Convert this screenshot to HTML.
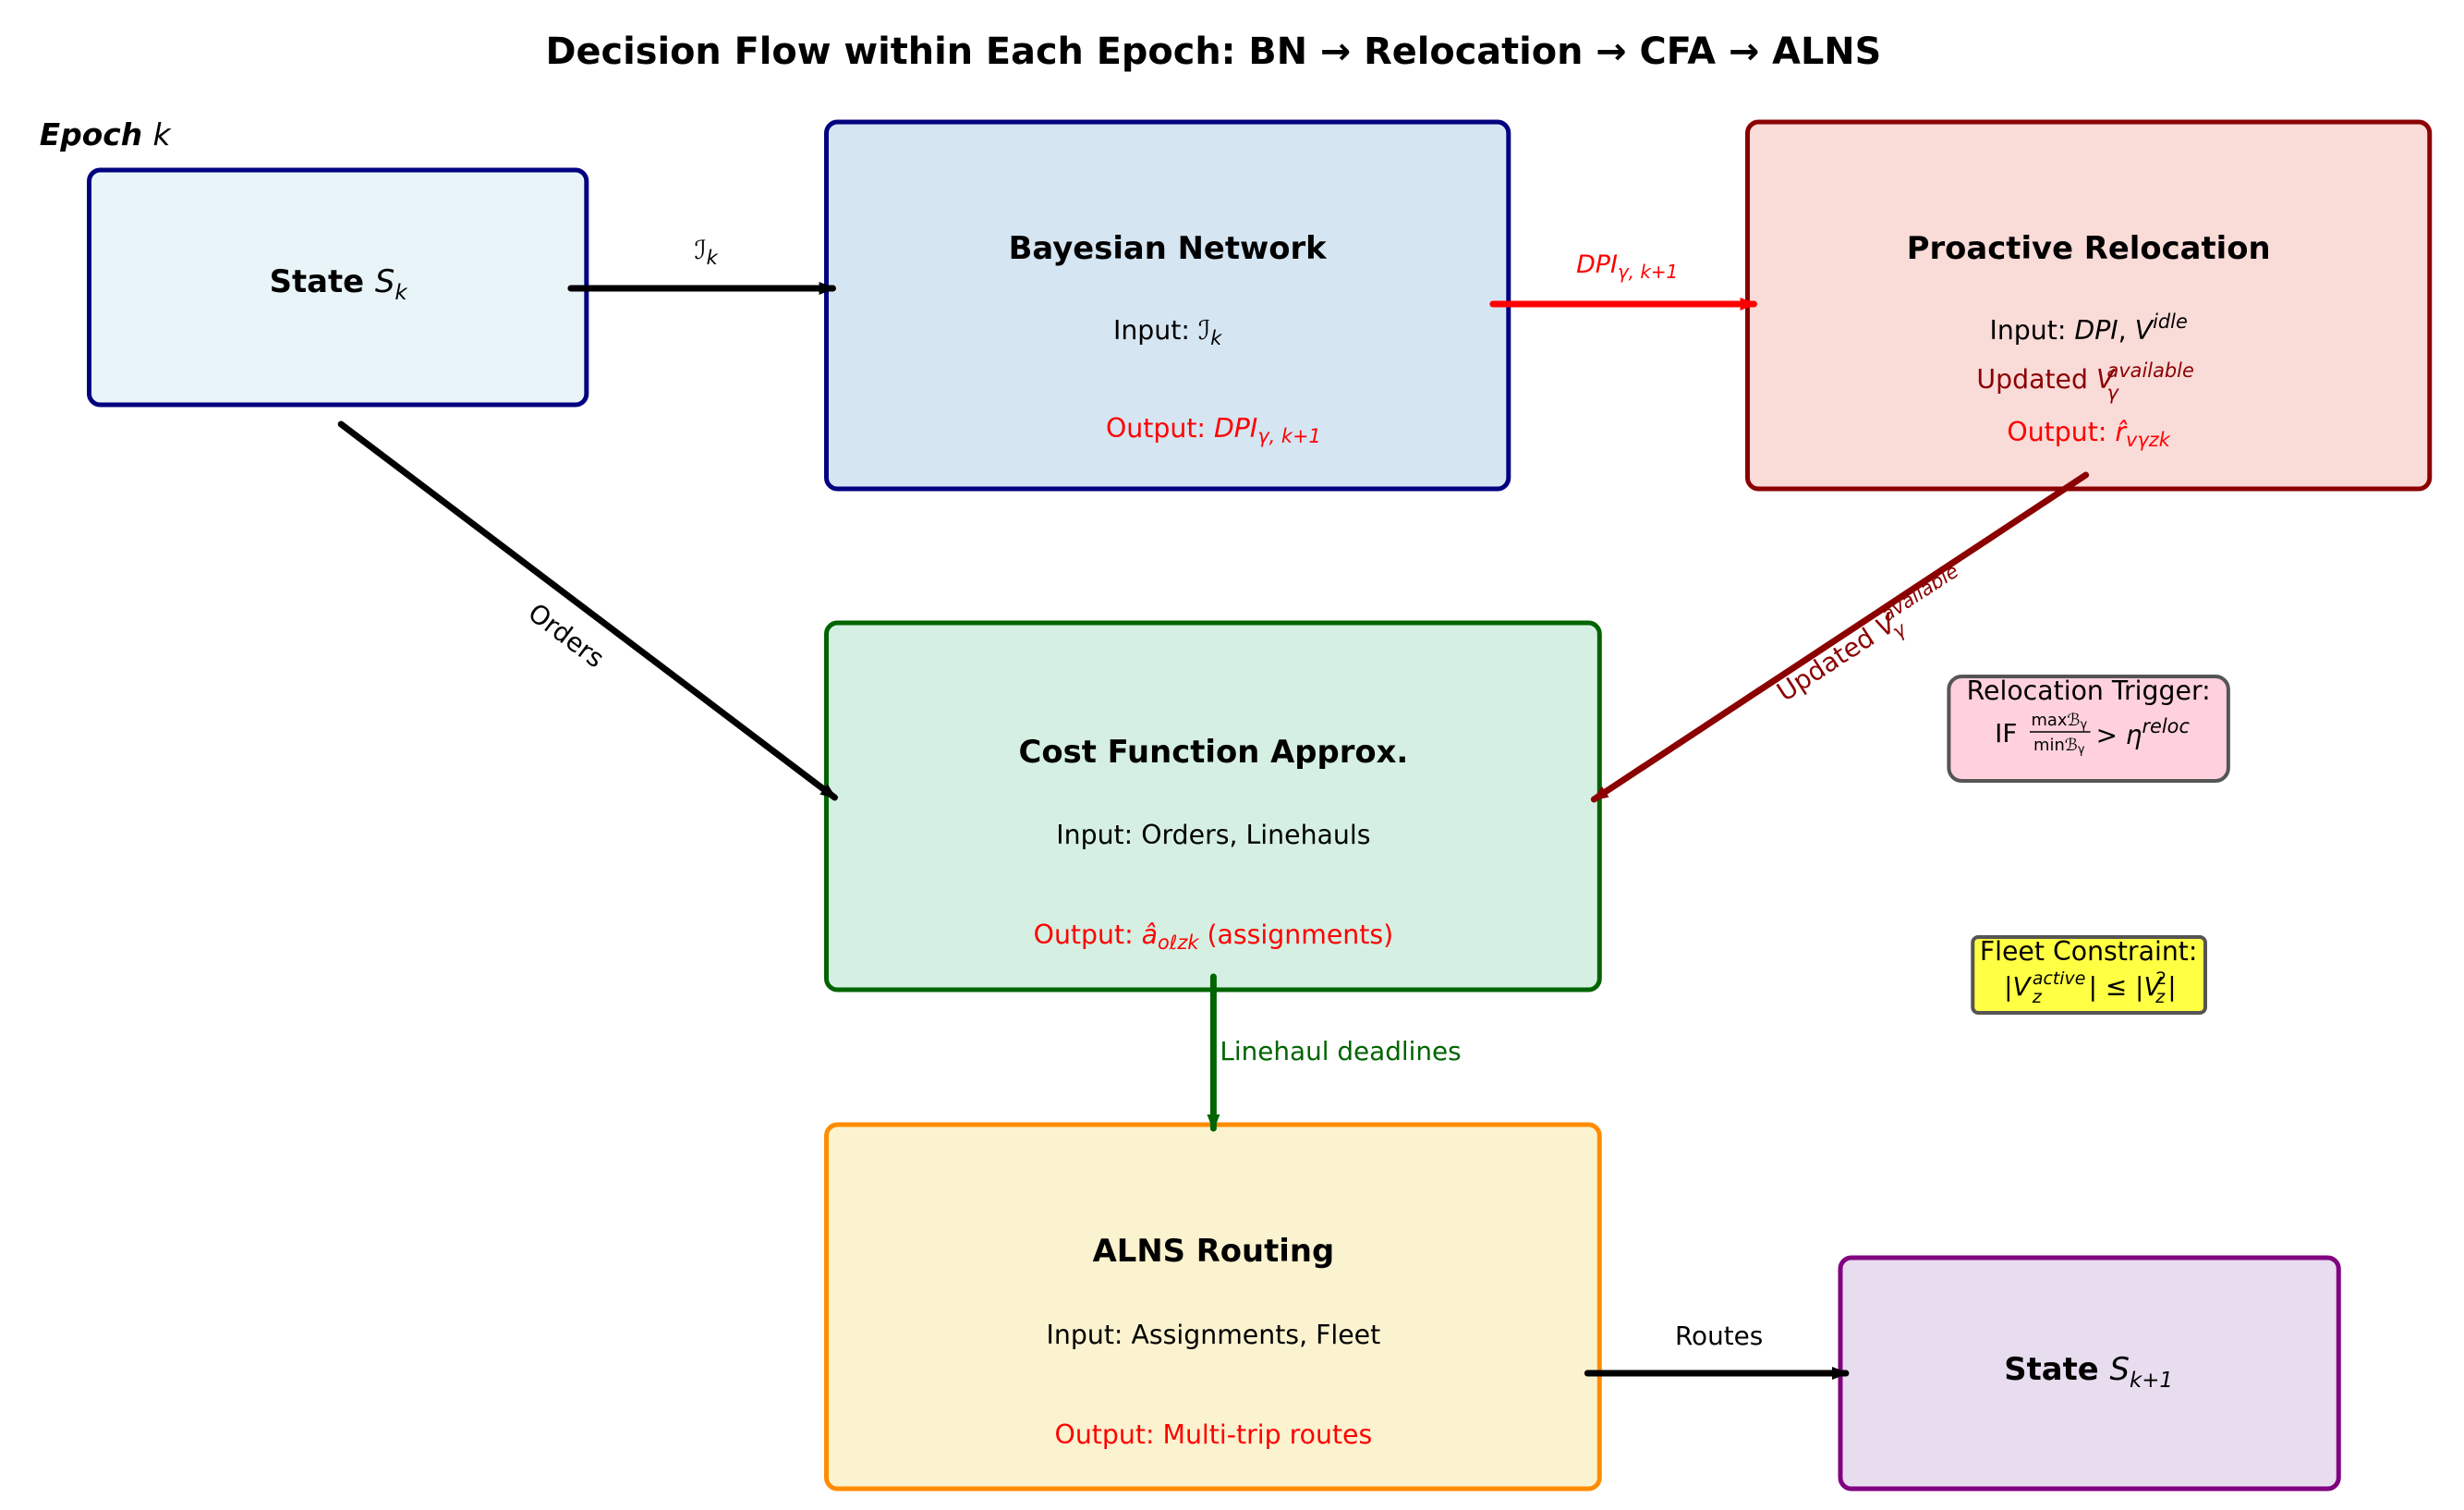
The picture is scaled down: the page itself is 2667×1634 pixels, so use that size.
<!DOCTYPE html>
<html><head><meta charset="utf-8"><style>
html,body{margin:0;padding:0;background:#fff;}
svg{display:block;font-family:"DejaVu Sans","Liberation Sans",sans-serif;}
.t{font-weight:bold;font-size:34px;text-anchor:middle;}
.b{font-size:28.5px;text-anchor:middle;}
.i{font-style:italic;}
</style></head><body>
<svg width="2667" height="1634" viewBox="0 0 2667 1634" xmlns="http://www.w3.org/2000/svg">
<defs>
<marker id="ak" markerUnits="userSpaceOnUse" markerWidth="18" markerHeight="16" refX="15" refY="8" orient="auto"><path d="M0,1 L18,8 L0,15 z" fill="#000"/></marker>
<marker id="ar" markerUnits="userSpaceOnUse" markerWidth="18" markerHeight="16" refX="15" refY="8" orient="auto"><path d="M0,1 L18,8 L0,15 z" fill="#ff0000"/></marker>
<marker id="adr" markerUnits="userSpaceOnUse" markerWidth="18" markerHeight="16" refX="15" refY="8" orient="auto"><path d="M0,1 L18,8 L0,15 z" fill="#8b0000"/></marker>
<marker id="ag" markerUnits="userSpaceOnUse" markerWidth="18" markerHeight="16" refX="15" refY="8" orient="auto"><path d="M0,1 L18,8 L0,15 z" fill="#006400"/></marker>
</defs>
<g transform="scale(0.995 1)">
<text x="1320" y="69" font-size="40" font-weight="bold" text-anchor="middle">Decision Flow within Each Epoch: BN → Relocation → CFA → ALNS</text>
<text x="43" y="157" font-size="33" font-weight="bold" font-style="italic">Epoch <tspan font-weight="normal">k</tspan></text>

<rect x="97" y="184" width="541" height="254" rx="12" fill="#e8f4f8" stroke="#000080" stroke-width="5"/>
<text x="368" y="316" class="t">State <tspan class="i" font-weight="normal">S</tspan><tspan class="i" font-weight="normal" font-size="23" dy="8">k</tspan></text>

<rect x="899" y="132" width="742" height="397" rx="12" fill="#d5e5f2" stroke="#000080" stroke-width="5"/>
<text x="1270" y="280" class="t">Bayesian Network</text>
<text x="1270" y="367" class="b">Input: <tspan class="i">ℐ</tspan><tspan class="i" font-size="21" dy="6">k</tspan></text>
<text x="1320" y="473" class="b" fill="#ff0000">Output: <tspan class="i">DPI</tspan><tspan class="i" font-size="21" dy="6">γ, k+1</tspan></text>

<rect x="1901" y="132" width="742" height="397" rx="12" fill="#f9dbd8" stroke="#8b0000" stroke-width="5"/>
<text x="2272" y="280" class="t">Proactive Relocation</text>
<text x="2272" y="367" class="b">Input: <tspan class="i">DPI</tspan>, <tspan class="i">V</tspan><tspan class="i" font-size="21" dy="-12">idle</tspan></text>
<text x="2225" y="420" class="b" fill="#8b0000">Updated <tspan class="i">V</tspan></text>
<text x="2292" y="408" font-size="21" fill="#8b0000" class="i">available</text>
<text x="2292" y="432" font-size="21" fill="#8b0000" class="i">γ</text>
<text x="2272" y="477" class="b" fill="#ff0000">Output: <tspan class="i">r̂</tspan><tspan class="i" font-size="21" dy="6">vγzk</tspan></text>

<rect x="899" y="674" width="841" height="397" rx="12" fill="#d5f0e3" stroke="#006400" stroke-width="5"/>
<text x="1320" y="825" class="t">Cost Function Approx.</text>
<text x="1320" y="913" class="b">Input: Orders, Linehauls</text>
<text x="1320" y="1021" class="b" fill="#ff0000">Output: <tspan class="i">â</tspan><tspan class="i" font-size="21" dy="6">oℓzk</tspan><tspan dy="-6"> (assignments)</tspan></text>

<rect x="899" y="1217" width="841" height="394" rx="12" fill="#fbf3cf" stroke="#ff8c00" stroke-width="5"/>
<text x="1320" y="1365" class="t">ALNS Routing</text>
<text x="1320" y="1454" class="b">Input: Assignments, Fleet</text>
<text x="1320" y="1562" class="b" fill="#ff0000">Output: Multi-trip routes</text>

<rect x="2002" y="1361" width="542" height="250" rx="12" fill="#e8dcef" stroke="#800080" stroke-width="5"/>
<text x="2272" y="1493" class="t">State <tspan class="i" font-weight="normal">S</tspan><tspan class="i" font-weight="normal" font-size="23" dy="8">k+1</tspan></text>

<rect x="2120" y="732" width="304" height="113" rx="14" fill="#ffd1dc" stroke="#555" stroke-width="4"/>
<text x="2272" y="757" class="b">Relocation Trigger:</text>
<text x="2170" y="803" font-size="28">IF</text>
<text x="2240" y="785" font-size="18" text-anchor="middle">max<tspan class="i">ℬ</tspan><tspan font-size="13" dy="3">γ</tspan></text>
<line x1="2208" y1="792" x2="2274" y2="792" stroke="#000" stroke-width="1.5"/>
<text x="2240" y="812" font-size="18" text-anchor="middle">min<tspan class="i">ℬ</tspan><tspan font-size="13" dy="3">γ</tspan></text>
<text x="2280" y="805" font-size="28">&gt; <tspan class="i">η</tspan><tspan class="i" font-size="21" dy="-12">reloc</tspan></text>

<rect x="2146" y="1014" width="253" height="82" rx="6" fill="#ffff44" stroke="#555" stroke-width="4"/>
<text x="2272" y="1039" class="b">Fleet Constraint:</text>
<text x="2180" y="1077" font-size="28">|<tspan class="i">V</tspan></text>
<text x="2211" y="1065" font-size="19" class="i">active</text>
<text x="2211" y="1085" font-size="19" class="i">z</text>
<text x="2272" y="1077" font-size="28">| ≤ |<tspan class="i">V</tspan></text>
<text x="2345" y="1065" font-size="19">2</text>
<text x="2345" y="1085" font-size="19" class="i">z</text>
<text x="2358" y="1077" font-size="28">|</text>

<!-- arrows -->
<line x1="621" y1="312" x2="906" y2="312" stroke="#000" stroke-width="7" stroke-linecap="round" marker-end="url(#ak)"/>
<text x="768" y="280" font-size="28" text-anchor="middle" class="i">ℐ<tspan font-size="21" dy="6">k</tspan></text>

<line x1="1624" y1="329" x2="1908" y2="329" stroke="#ff0000" stroke-width="7" stroke-linecap="round" marker-end="url(#ar)"/>
<text x="1770" y="295" font-size="27" text-anchor="middle" fill="#ff0000" class="i">DPI<tspan font-size="20" dy="6">γ, k+1</tspan></text>

<line x1="371" y1="459" x2="908" y2="863" stroke="#000" stroke-width="7" stroke-linecap="round" marker-end="url(#ak)"/>
<text x="615" y="697" font-size="28" text-anchor="middle" transform="rotate(37 615 689)">Orders</text>

<line x1="2269" y1="514" x2="1734" y2="865" stroke="#8b0000" stroke-width="7" stroke-linecap="round" marker-end="url(#adr)"/>
<g transform="rotate(-33 2017 701)" fill="#8b0000">
<text x="1995" y="709" font-size="28" text-anchor="middle">Updated <tspan class="i">V</tspan></text>
<text x="2062" y="697" font-size="21" class="i">available</text>
<text x="2062" y="719" font-size="21" class="i">γ</text>
</g>

<line x1="1320" y1="1057" x2="1320" y2="1221" stroke="#006400" stroke-width="7" stroke-linecap="round" marker-end="url(#ag)"/>
<text x="1327" y="1147" font-size="28" fill="#006400">Linehaul deadlines</text>

<line x1="1727" y1="1486" x2="2008" y2="1486" stroke="#000" stroke-width="7" stroke-linecap="round" marker-end="url(#ak)"/>
<text x="1870" y="1455" font-size="28" text-anchor="middle">Routes</text>
</g>
</svg>
</body></html>
